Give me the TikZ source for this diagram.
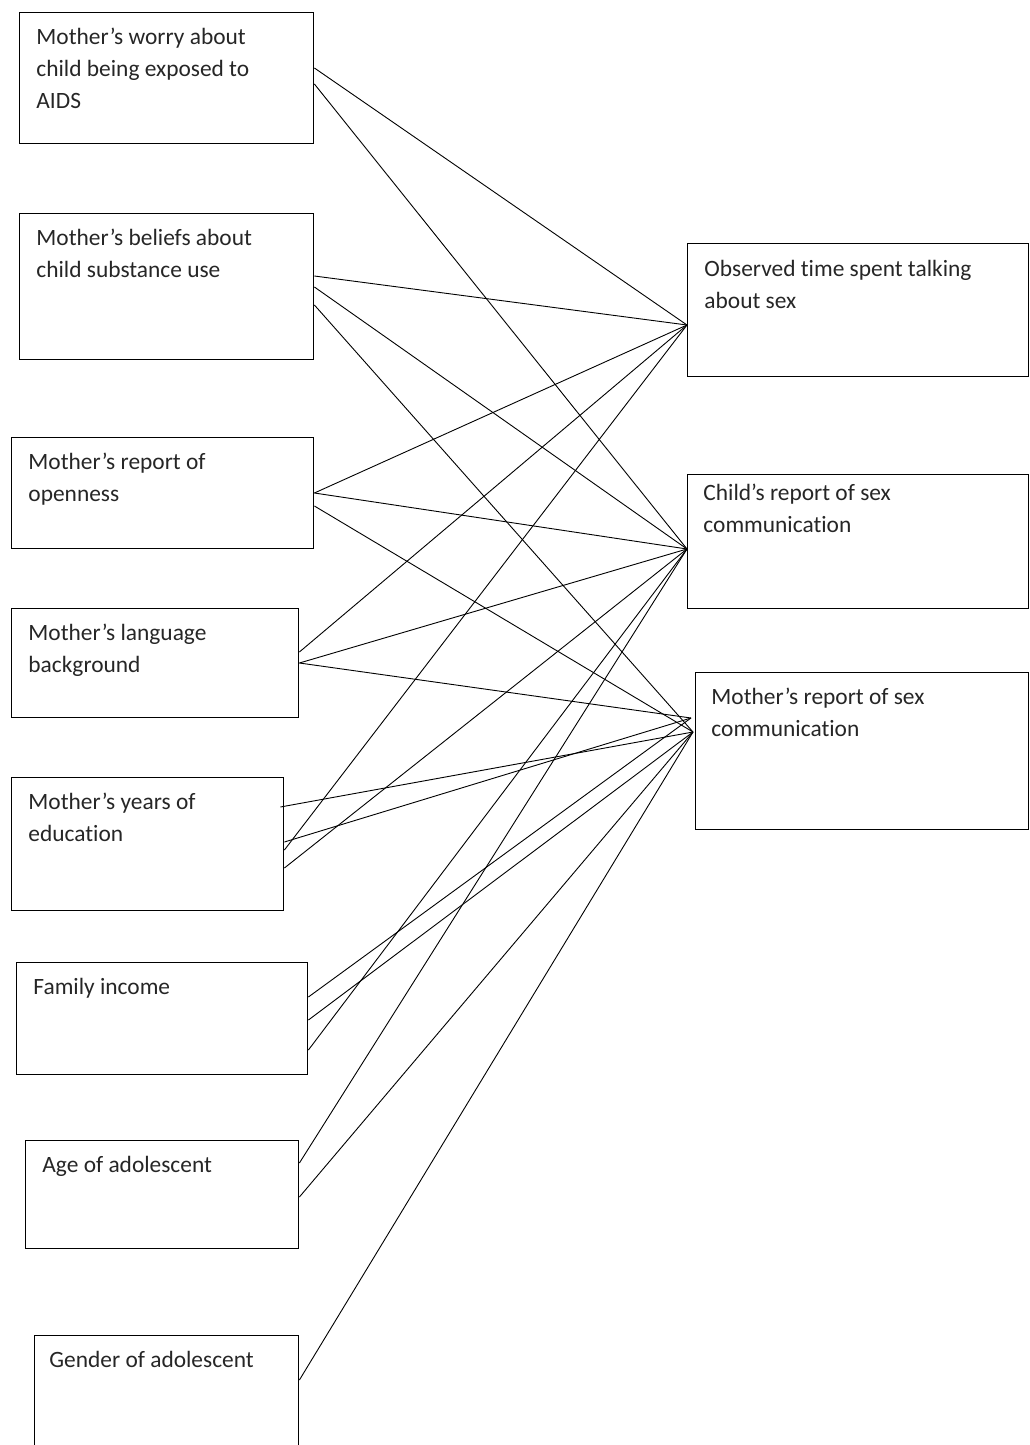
\documentclass[tikz,border=0pt]{standalone}
\usepackage{fontspec}
\setmainfont{Carlito}[Ligatures=NoCommon]
\usetikzlibrary{positioning}
\usetikzlibrary{calc}

\begin{document}
\begin{tikzpicture}[x=0.5pt,y=-0.5pt,line width=0.45pt,
			every edge/.append style={line width=0.45pt},
			box/.style={draw,rectangle,anchor=north west,inner sep=0pt,line width=0.7pt},
			txt/.style={inner sep=0pt,align=left,text=black!85,
				font=\fontsize{11.7pt}{16pt}\selectfont}]

			\useasboundingbox (0,0) rectangle (1029,1445);
			\clip (0,0) rectangle (1029,1445);

			% left column
			\node[box,minimum width=147pt,minimum height=65.5pt] (worry) at (19,12) {};
			\node[box,minimum width=147pt,minimum height=73pt] (beliefs) at (19,213) {};
			\node[box,minimum width=151pt,minimum height=55.5pt] (openness) at (11,437) {};
			\node[box,minimum width=143.5pt,minimum height=54.5pt] (language) at (11,608) {};
			\node[box,minimum width=136pt,minimum height=66.5pt] (education) at (11,777) {};
			\node[box,minimum width=145.5pt,minimum height=56pt] (income) at (16,962) {};
			\node[box,minimum width=136.5pt,minimum height=54pt] (age) at (25,1140) {};
			\node[box,minimum width=132pt,minimum height=65pt] (gender) at (34,1335) {};

			% right column
			\node[box,minimum width=170.5pt,minimum height=66.5pt] (observed) at (687,243) {};
			\node[box,minimum width=170.5pt,minimum height=67pt] (childrep) at (687,474) {};
			\node[box,minimum width=166.5pt,minimum height=78.5pt] (motherrep) at (695,672) {};

			\node[txt,below right=8pt and 8.5pt of worry.north west] (worry-t)
				{Mother’s worry about\\child being exposed to\\AIDS};
			\node[txt,below right=8pt and 8.5pt of beliefs.north west] (beliefs-t)
				{Mother’s beliefs about\\child substance use};
			\node[txt,below right=8pt and 8.5pt of openness.north west] (openness-t)
				{Mother’s report of\\openness};
			\node[txt,below right=8pt and 8.5pt of language.north west] (language-t)
				{Mother’s language\\background};
			\node[txt,below right=8pt and 8.5pt of education.north west] (education-t)
				{Mother’s years of\\education};
			\node[txt,below right=8pt and 8.5pt of income.north west] (income-t) {Family income};
			\node[txt,below right=8pt and 8.5pt of age.north west] (age-t) {Age of adolescent};
			\node[txt,below right=8pt and 7.5pt of gender.north west] (gender-t) {Gender of adolescent};
			\node[txt,below right=8.5pt and 8.5pt of observed.north west] (observed-t)
				{Observed time spent talking\\about sex};
			\node[txt,below right=5pt and 8pt of childrep.north west] (childrep-t)
				{Child’s report of sex\\communication};
			\node[txt,below right=8pt and 8pt of motherrep.north west] (motherrep-t)
				{Mother’s report of sex\\communication};

			\coordinate (toObs) at ($(observed.north west)+(0,82)$);
			\coordinate (toChild) at ($(childrep.north west)+(0,75)$);
			\coordinate (toMom1) at ($(motherrep.north west)+(-4,46)$);
			\coordinate (toMom2) at ($(motherrep.north west)+(-2,60)$);

			\path
				($(worry.north east)+(0,56)$) edge (toObs)
				($(worry.north east)+(0,72)$) edge (toChild)
				($(beliefs.north east)+(0,63)$) edge (toObs)
				($(beliefs.north east)+(0,74)$) edge (toChild)
				($(beliefs.north east)+(0,92)$) edge (toMom2)
				($(openness.north east)+(0,56)$) edge (toObs)
					edge (toChild)
				($(openness.north east)+(0,69)$) edge (toMom2)
				($(language.north east)+(0,44)$) edge (toObs)
				($(language.north east)+(0,55)$) edge (toChild)
					edge (toMom1)
				($(education.north east)+(-4,30)$) edge (toMom2)
				($(education.north east)+(0,65)$) edge (toMom1)
				($(education.north east)+(0,73)$) edge (toObs)
				($(education.north east)+(0,91)$) edge (toChild)
				($(income.north east)+(0,35)$) edge (toMom1)
				($(income.north east)+(0,58)$) edge (toMom2)
				($(income.north east)+(0,88)$) edge (toChild)
				($(age.north east)+(0,23)$) edge (toChild)
				($(age.north east)+(0,57)$) edge (toMom2)
				($(gender.north east)+(0,45)$) edge (toMom2)
			;
\end{tikzpicture}
\end{document}
